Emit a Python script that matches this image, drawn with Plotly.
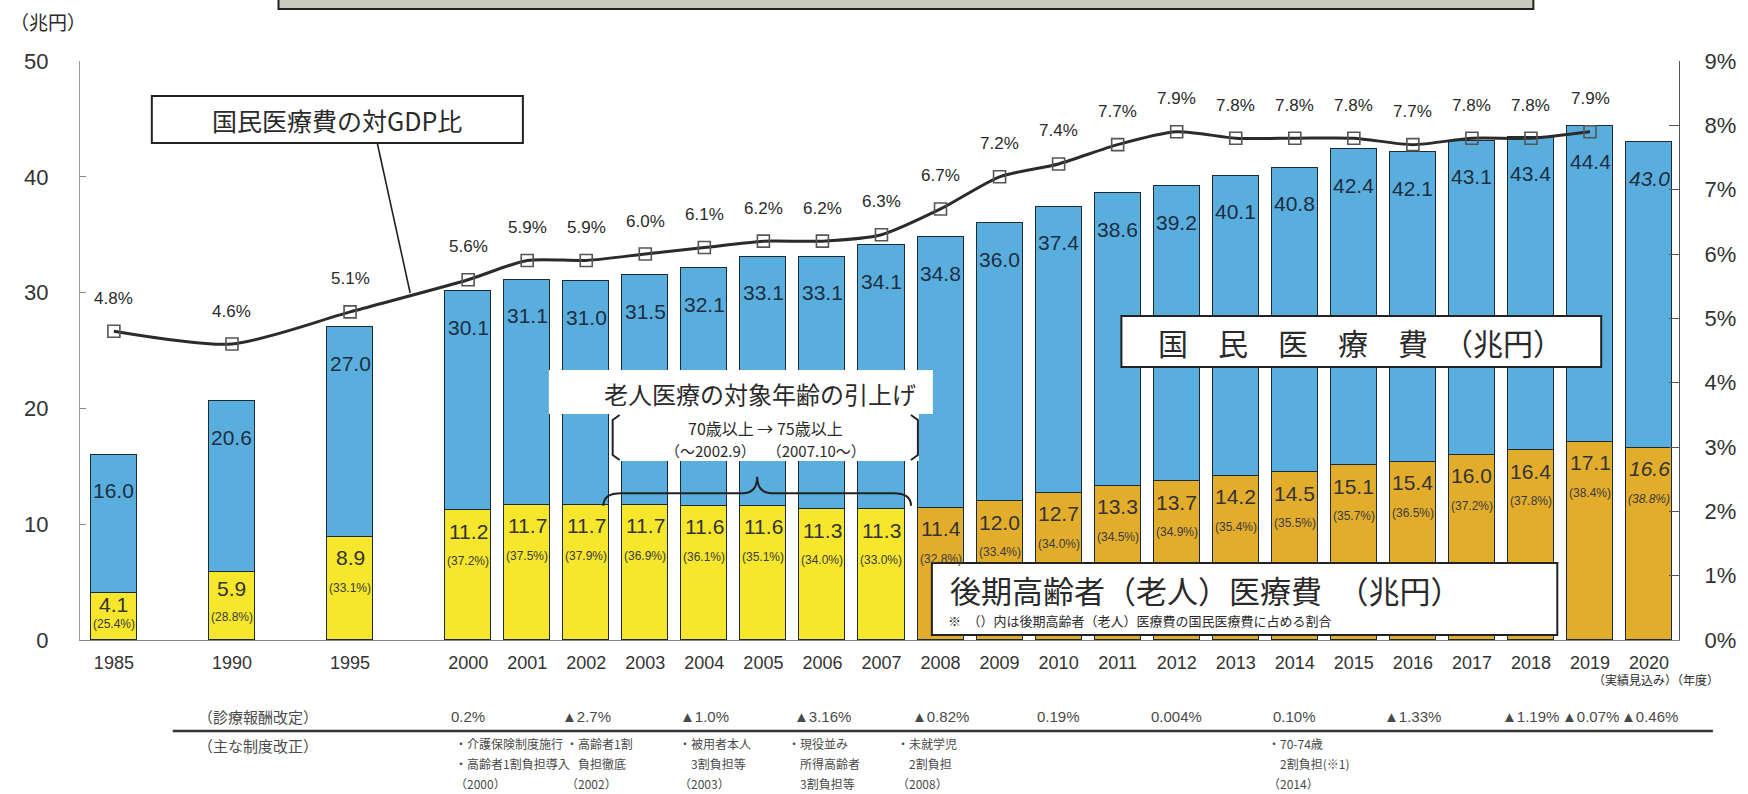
import plotly.graph_objects as go

# ---- data -------------------------------------------------------------
years = ["1985", "1990", "1995", "2000", "2001", "2002", "2003", "2004", "2005",
         "2006", "2007", "2008", "2009", "2010", "2011", "2012", "2013", "2014",
         "2015", "2016", "2017", "2018", "2019", "2020"]
national_total = [16.0, 20.6, 27.0, 30.1, 31.1, 31.0, 31.5, 32.1, 33.1, 33.1, 34.1,
                  34.8, 36.0, 37.4, 38.6, 39.2, 40.1, 40.8, 42.4, 42.1, 43.1, 43.4,
                  44.4, 43.0]
elderly_cost = [4.1, 5.9, 8.9, 11.2, 11.7, 11.7, 11.7, 11.6, 11.6, 11.3, 11.3,
                11.4, 12.0, 12.7, 13.3, 13.7, 14.2, 14.5, 15.1, 15.4, 16.0, 16.4,
                17.1, 16.6]
elderly_share = [25.4, 28.8, 33.1, 37.2, 37.5, 37.9, 36.9, 36.1, 35.1, 34.0, 33.0,
                 32.8, 33.4, 34.0, 34.5, 34.9, 35.4, 35.5, 35.7, 36.5, 37.2, 37.8,
                 38.4, 38.8]
gdp_ratio = [4.8, 4.6, 5.1, 5.6, 5.9, 5.9, 6.0, 6.1, 6.2, 6.2, 6.3,
             6.7, 7.2, 7.4, 7.7, 7.9, 7.8, 7.8, 7.8, 7.7, 7.8, 7.8, 7.9, None]

fee_years = ["2000", "2002", "2004", "2006", "2008", "2010", "2012", "2014",
             "2016", "2018", "2019", "2020"]
fee_rates = ["0.2%", "▲2.7%", "▲1.0%", "▲3.16%", "▲0.82%", "0.19%", "0.004%",
             "0.10%", "▲1.33%", "▲1.19%", "▲0.07%", "▲0.46%"]

reform_years = ["2000", "2002", "2004", "2006", "2008", "2014"]
reform_notes = [
    ["・介護保険制度施行", "・高齢者1割負担導入", "（2000）"],
    ["・高齢者1割", "　負担徹底", "（2002）"],
    ["・被用者本人", "　3割負担等", "（2003）"],
    ["・現役並み", "　所得高齢者", "　3割負担等"],
    ["・未就学児", "　2割負担", "（2008）"],
    ["・70-74歳", "　2割負担(※1)", "（2014）"],
]

# ---- style ------------------------------------------------------------
BLUE = "#5aaede"
YELLOW = "#f6e62c"
GOLD = "#e3ad2c"
EDGE = "#1d2b36"
INK = "#2a2a2a"
GREY = "#4a4a4a"
NUM = "Liberation Sans, Arial, sans-serif"
SANS = "Liberation Sans, Arial, sans-serif"
JP = "Noto Sans CJK JP, sans-serif"

W, H = 1748, 794
L, R, T, B = 80, 65, 61, 154
PW, PH = W - L - R, H - T - B
PX_PER_UNIT = PH / 50.0


def px(x):
    return (x - L) / PW


def py(y):
    return (H - B - y) / PH


def slot(year):
    y = int(year)
    return (y - 1985) * 2 / 5 if y <= 2000 else 6 + (y - 2000)


xs = [slot(y) for y in years]
upper = [round(t - e, 1) for t, e in zip(national_total, elderly_cost)]
low_colors = [YELLOW if int(y) < 2008 else GOLD for y in years]

fig = go.Figure()
fig.add_bar(x=xs, y=elderly_cost, width=0.78, marker=dict(color=low_colors, line=dict(color=EDGE, width=1.3)),
            hoverinfo="skip")
fig.add_bar(x=xs, y=upper, width=0.78, marker=dict(color=BLUE, line=dict(color=EDGE, width=1.3)),
            hoverinfo="skip")
fig.add_scatter(x=xs, y=gdp_ratio, yaxis="y2", mode="lines+markers",
                line=dict(color="#2b2b2b", width=3, shape="spline", smoothing=0.7),
                marker=dict(symbol="square-open", size=12, color="#555", line=dict(width=1.6)),
                hoverinfo="skip")

ann = []
# bar value labels
for i, y in enumerate(years):
    italic = "italic" if y == "2020" else "normal"
    ann.append(dict(x=xs[i], y=national_total[i], xref="x", yref="y", text=f"{national_total[i]:.1f}",
                    showarrow=False, yshift=-36, yanchor="middle",
                    font=dict(family=NUM, size=21, color="#1c2e42", style=italic)))
    h = elderly_cost[i] * PX_PER_UNIT
    v_off = min(21, 0.25 * h)
    p_off = min(51, 0.66 * h)
    ann.append(dict(x=xs[i], y=elderly_cost[i], xref="x", yref="y", text=f"{elderly_cost[i]:.1f}",
                    showarrow=False, yshift=-v_off, yanchor="middle",
                    font=dict(family=NUM, size=21, color="#333", style=italic)))
    ann.append(dict(x=xs[i], y=elderly_cost[i], xref="x", yref="y", text=f"({elderly_share[i]:.1f}%)",
                    showarrow=False, yshift=-p_off, yanchor="middle",
                    font=dict(family=NUM, size=12, color="#3a3a3a", style=italic)))
    if gdp_ratio[i] is not None:
        ann.append(dict(x=xs[i], y=gdp_ratio[i], xref="x", yref="y2", text=f"{gdp_ratio[i]:.1f}%",
                        showarrow=False, yshift=33, yanchor="middle",
                        font=dict(family=NUM, size=17, color=INK)))

shapes = []


def box(x0, y0, x1, y1, fill="white", lw=2):
    shapes.append(dict(type="rect", xref="paper", yref="paper", x0=px(x0), x1=px(x1), y0=py(y1), y1=py(y0),
                       fillcolor=fill, line=dict(color="#222" if lw else "rgba(0,0,0,0)", width=lw),
                       layer="above"))


def label(x, y, text, size, family=JP, color=INK, anchor="center"):
    ann.append(dict(x=px(x), y=py(y), xref="paper", yref="paper", text=text, showarrow=False,
                    xanchor=anchor, yanchor="middle", font=dict(family=family, size=size, color=color)))


# unit label
label(8, 22, "（兆円）", 19, anchor="left")

# labelled boxes
box(279, -12, 1537, 9, fill="#c8cabd")
box(152, 96, 524, 143)
label(338, 120, "国民医療費の対GDP比", 25)
shapes.append(dict(type="line", xref="paper", yref="paper", x0=px(378), y0=py(143), x1=px(411), y1=py(293),
                   line=dict(color="#222", width=1.6), layer="above"))

box(1124, 316, 1605, 367)
label(1364, 342, "国　民　医　療　費　（兆円）", 30)

box(934, 563, 1561, 635)
label(950, 589, "後期高齢者（老人）医療費　（兆円）", 31, anchor="left")
label(948, 620, "※　（）内は後期高齢者（老人）医療費の国民医療費に占める割合", 13, anchor="left")

# age-threshold note
box(550, 370, 935, 414, lw=0)
box(613, 413, 921, 461, lw=0)
label(762, 393, "老人医療の対象年齢の引上げ", 24)
label(767, 428, "70歳以上 → 75歳以上", 16)
label(767, 451, "（～2002.9）　 （2007.10～）", 15)
for xa, d in ((614, 7), (920, -7)):
    shapes.append(dict(type="path", xref="paper", yref="paper",
                       path=f"M {px(xa + d)},{py(415)} L {px(xa)},{py(420)} L {px(xa)},{py(455)} L {px(xa + d)},{py(460)}",
                       line=dict(color="#222", width=2), layer="above"))

# curly brace over the 2002-2007 bars
b0, b1 = slot("2002") + 0.29, slot("2007") + 0.5
bm = (b0 + b1) / 2
yb, yl, yp = 11.6, 12.67, 14.1
shapes.append(dict(type="path", xref="x", yref="y",
                   path=(f"M {b0},{yb} Q {b0},{yl} {b0 + 0.3},{yl} L {bm - 0.25},{yl} "
                         f"Q {bm},{yl} {bm},{yp} Q {bm},{yl} {bm + 0.25},{yl} L {b1 - 0.3},{yl} "
                         f"Q {b1},{yl} {b1},{yb}"),
                   line=dict(color="#222", width=2), layer="above"))

# fee revisions and system reforms below the axis
label(1660, 679, "（実績見込み）（年度）", 12, anchor="center")
label(258, 716, "（診療報酬改定）", 15, color=GREY)
label(258, 745, "（主な制度改正）", 15, color=GREY)
shapes.append(dict(type="line", xref="paper", yref="paper", x0=px(173), x1=px(1717), y0=py(731), y1=py(731),
                   line=dict(color="#333", width=2.5)))
for fy, fr in zip(fee_years, fee_rates):
    ann.append(dict(x=slot(fy), y=py(716), xref="x", yref="paper", text=fr, showarrow=False,
                    yanchor="middle", font=dict(family=NUM, size=15, color=GREY)))
note_shift = [-15, -22, -27, -36, -46, -29]
for ry, notes, dx in zip(reform_years, reform_notes, note_shift):
    for k, line in enumerate(notes):
        ann.append(dict(x=slot(ry), y=py(744 + 19.5 * k), xref="x", yref="paper", text=line,
                        showarrow=False, xanchor="left", yanchor="middle", xshift=dx,
                        font=dict(family=JP, size=12, color=GREY)))

fig.update_layout(
    width=W, height=H, autosize=False,
    margin=dict(l=L, r=R, t=T, b=B),
    paper_bgcolor="white", plot_bgcolor="white",
    barmode="stack", bargap=0, showlegend=False,
    xaxis=dict(range=[-0.574, 26.507], tickmode="array", tickvals=xs, ticktext=years,
               tickfont=dict(family=NUM, size=18, color="#333"), showline=True,
               linecolor="#888", linewidth=1, showgrid=False, zeroline=False, ticks="",
               ticklabelstandoff=6, fixedrange=True),
    yaxis=dict(range=[0, 50], tickmode="array", tickvals=[0, 10, 20, 30, 40, 50],
               ticks="inside", ticklen=6, tickcolor="#888", showline=True, linecolor="#999",
               showgrid=False, zeroline=False, tickfont=dict(family=SANS, size=22, color="#333"),
               ticklabelstandoff=26),
    yaxis2=dict(range=[0, 9], overlaying="y", side="right", tickmode="array",
                tickvals=list(range(10)), ticktext=[f"{i}%" for i in range(10)],
                ticks="inside", ticklen=10, tickcolor="#555", showline=True, linecolor="#555",
                showgrid=False, zeroline=False, tickfont=dict(family=SANS, size=22, color="#333"),
                ticklabelstandoff=20),
    annotations=ann,
    shapes=shapes,
)

fig.write_html("out.html")
